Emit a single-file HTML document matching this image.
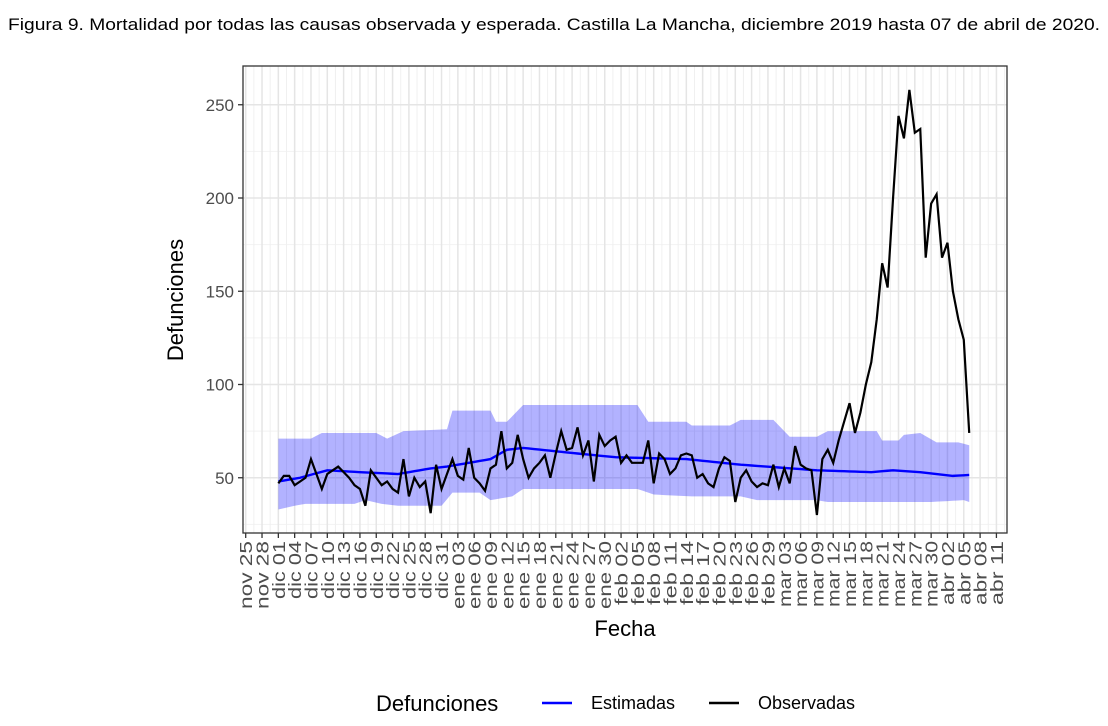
<!DOCTYPE html>
<html><head><meta charset="utf-8"><style>
body{margin:0;background:#fff;width:1108px;height:726px;overflow:hidden}
svg{display:block}
</style></head><body>
<svg id="s" width="1108" height="726" xmlns="http://www.w3.org/2000/svg" font-family="Liberation Sans, sans-serif">
<text x="8" y="30" font-size="17" fill="#000" textLength="1092" lengthAdjust="spacingAndGlyphs">Figura 9. Mortalidad por todas las causas observada y esperada. Castilla La Mancha, diciembre 2019 hasta 07 de abril de 2020.</text>
<g id="g"></g>
</svg>
<script>
const L=243,R=1007,T=66,B=533;
const X0=245.7,DX=5.44;
const yv=v=>571-v*1.865;
const xd=d=>X0+d*DX;
let h='';
h+=`<rect x="${L}" y="${T}" width="${R-L}" height="${B-T}" fill="#fff"/>`;
for(let v=25;v<=275;v+=50){const y=yv(v);if(y>T&&y<B)h+=`<line x1="${L}" x2="${R}" y1="${y}" y2="${y}" stroke="#f2f2f2" stroke-width="1"/>`;}
for(let d=1.5;d<140;d+=3){const x=xd(d);if(x<R)h+=`<line x1="${x}" x2="${x}" y1="${T}" y2="${B}" stroke="#f0f0f0" stroke-width="1"/>`;}
for(let v=50;v<=250;v+=50){const y=yv(v);h+=`<line x1="${L}" x2="${R}" y1="${y}" y2="${y}" stroke="#e5e5e5" stroke-width="1.5"/>`;}
const months=[['nov',25,30],['dic',1,31],['ene',1,31],['feb',1,29],['mar',1,31],['abr',1,30]];
const dates=[];
for(const [m,s,e] of months){for(let i=s;i<=e;i++){dates.push(m+' '+String(i).padStart(2,'0'));}}
for(let d=0;d<=138;d+=3){const x=xd(d);h+=`<line x1="${x}" x2="${x}" y1="${T}" y2="${B}" stroke="#e5e5e5" stroke-width="1.5"/>`;
 h+=`<line x1="${x}" x2="${x}" y1="${B}" y2="${B+5}" stroke="#333" stroke-width="1.3"/>`;
 const w=dates[d].startsWith('mar')?66:(dates[d].startsWith('feb')||dates[d].startsWith('abr')?64:(dates[d].startsWith('nov')||dates[d].startsWith('ene')?68:58));
 h+=`<text transform="translate(${x+6.5},${B+8}) rotate(-90)" text-anchor="end" font-size="17.5" fill="#4d4d4d" textLength="${w}" lengthAdjust="spacingAndGlyphs">${dates[d]}</text>`;}
const obs=[47,51,51,46,48,50,60,52,44,52,54,56,53,50,46,44,35,54,50,46,48,44,42,60,40,50,45,48,31,57,44,
52,60,51,49,66,50,47,43,55,57,75,55,58,73,60,50,55,58,62,50,63,75,65,66,77,62,70,48,73,67,70,
72,58,62,58,58,58,70,47,63,60,52,55,62,63,62,50,52,47,45,55,61,59,37,50,54,48,45,47,46,
57,45,55,47,67,57,55,54,30,60,65,58,70,80,90,74,85,100,112,135,165,152,200,244,232,258,235,237,168,197,202,
168,176,150,135,124,74];
const n=obs.length;
function interp(pts,i){for(let k=0;k<pts.length-1;k++){if(i>=pts[k][0]&&i<=pts[k+1][0]){const t=(i-pts[k][0])/(pts[k+1][0]-pts[k][0]||1);return pts[k][1]+t*(pts[k+1][1]-pts[k][1]);}}return pts[pts.length-1][1];}
const est=[[0,48],[4,50],[9,54],[15,53],[22,52],[28,55],[31,56],[39,60],[42,65],[45,66],[55,63],[62,61],[75,60],[85,57],[99,54],[109,53],[113,54],[118,53],[124,51],[130,52],[133,52]];
const up=[[0,71],[6,71],[8,74],[18,74],[20,71],[23,75],[31,76],[32,86],[39,86],[40,80],[42,80],[45,89],[66,89],[68,80],[75,80],[76,78],[83,78],[85,81],[91,81],[94,72],[99,72],[101,75],[110,75],[111,70],[114,70],[115,73],[118,74],[121,69],[125,69],[130,65],[133,65]];
const lo=[[0,33],[3,35],[5,36],[14,36],[16,38],[19,36],[22,35],[30,35],[32,42],[37,42],[39,38],[43,40],[45,44],[66,44],[69,41],[76,40],[85,40],[88,38],[99,38],[101,37],[120,37],[126,38],[129,35],[133,34]];
let pu=[],pl=[];
for(let i=0;i<n;i++){pu.push(`${xd(i+6)},${yv(interp(up,i))}`);pl.push(`${xd(i+6)},${yv(interp(lo,i))}`);}
h+=`<polygon points="${pu.join(' ')} ${pl.reverse().join(' ')}" fill="#0000ff" fill-opacity="0.3"/>`;
let pe=[],po=[];
for(let i=0;i<n;i++){pe.push(`${xd(i+6)},${yv(interp(est,i))}`);po.push(`${xd(i+6)},${yv(obs[i])}`);}
h+=`<polyline points="${pe.join(' ')}" fill="none" stroke="#0000ff" stroke-width="2.4"/>`;
h+=`<polyline points="${po.join(' ')}" fill="none" stroke="#000" stroke-width="2.2"/>`;
h+=`<rect x="${L}" y="${T}" width="${R-L}" height="${B-T}" fill="none" stroke="#333" stroke-width="1.3"/>`;
for(let v=50;v<=250;v+=50){const y=yv(v);h+=`<line x1="${L-5}" x2="${L}" y1="${y}" y2="${y}" stroke="#333" stroke-width="1.3"/>`;
 h+=`<text x="${L-9}" y="${y+6}" text-anchor="end" font-size="17" fill="#4d4d4d">${v}</text>`;}
h+=`<text transform="translate(183,300) rotate(-90)" text-anchor="middle" font-size="22" fill="#000">Defunciones</text>`;
h+=`<text x="625" y="636" text-anchor="middle" font-size="22" fill="#000">Fecha</text>`;
h+=`<text x="376" y="711" font-size="22" fill="#000">Defunciones</text>`;
h+=`<line x1="542" x2="572" y1="703" y2="703" stroke="#0000ff" stroke-width="2.5"/>`;
h+=`<text x="591" y="709" font-size="18" fill="#000">Estimadas</text>`;
h+=`<line x1="709" x2="739" y1="703" y2="703" stroke="#000" stroke-width="2.5"/>`;
h+=`<text x="758" y="709" font-size="18" fill="#000">Observadas</text>`;
document.getElementById('g').innerHTML=h;
</script>
</body></html>
